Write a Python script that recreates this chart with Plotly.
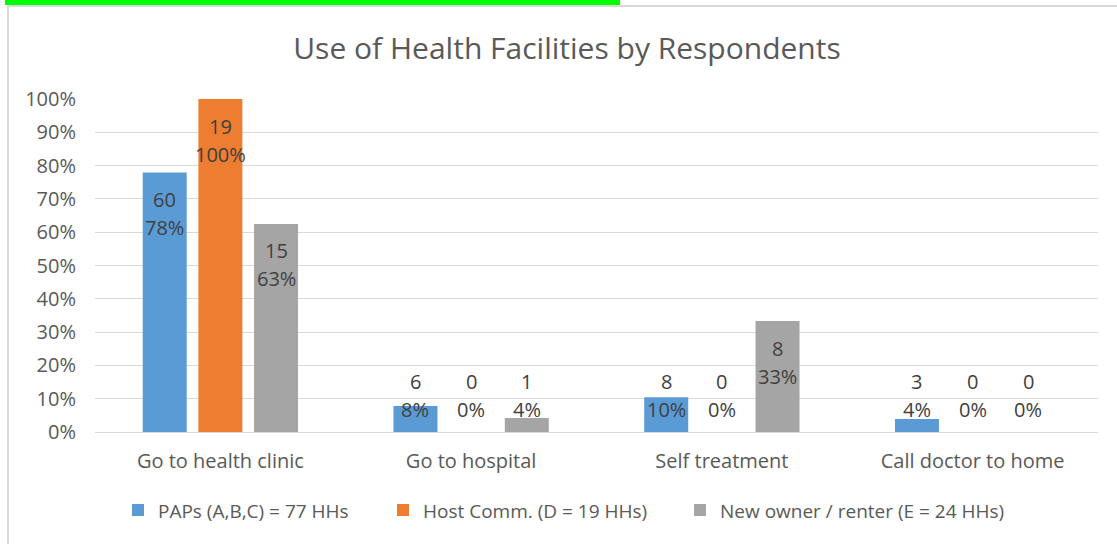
import plotly.graph_objects as go

categories = ["Go to health clinic", "Go to hospital", "Self treatment", "Call doctor to home"]
series_names = ["PAPs (A,B,C) = 77 HHs", "Host Comm. (D = 19 HHs)", "New owner / renter (E = 24 HHs)"]
paps_pct = [77.9, 7.8, 10.4, 3.9]
paps_cnt = [60, 6, 8, 3]
host_pct = [100, 0, 0, 0]
host_cnt = [19, 0, 0, 0]
new_pct = [62.5, 4.2, 33.3, 0]
new_cnt = [15, 1, 8, 0]
colors = ["#5B9BD5", "#ED7D31", "#A5A5A5"]
y_ticks = list(range(0, 101, 10))

series = [(series_names[0], paps_pct, paps_cnt, colors[0]),
          (series_names[1], host_pct, host_cnt, colors[1]),
          (series_names[2], new_pct, new_cnt, colors[2])]

FONT = "Open Sans"
legend_ids = ["legend", "legend2", "legend3"]
legend_px = [118, 383, 680]

fig = go.Figure()
for i, (name, pct, cnt, col) in enumerate(series):
    fig.add_trace(go.Bar(x=categories, y=pct, name=name, marker_color=col,
                         marker_line_width=0, offsetgroup=name, hoverinfo="skip",
                         legend=legend_ids[i], showlegend=True))

# data labels: count and rounded percent, placed at inside end (clamped for small bars)
n = len(series)
slot = (1 - 0.334) / n
annotations = []
for si, (name, pct, cnt, col) in enumerate(series):
    off = (si - (n - 1) / 2) * slot
    for ci, cat in enumerate(categories):
        yv = max(pct[ci], 23.4)
        for text, shift in ((str(cnt[ci]), -27), (f"{int(pct[ci] + 0.5)}%", -55)):
            annotations.append(dict(x=ci + off, y=yv, xref="x", yref="y", text=text,
                                    showarrow=False, yanchor="middle", yshift=shift,
                                    font=dict(family=FONT, size=20, color="#404040")))

legend_style = dict(orientation="h", xanchor="left", y=-0.235, yanchor="middle",
                    font=dict(family=FONT, size=19, color="#595959"),
                    itemwidth=30, bgcolor="rgba(0,0,0,0)", borderwidth=0)

fig.update_layout(
    width=1117, height=544,
    margin=dict(l=95, r=19, t=99, b=112),
    paper_bgcolor="white", plot_bgcolor="white",
    showlegend=True,
    barmode="group", bargap=0.334, bargroupgap=0.21,
    title=dict(text="Use of Health Facilities by Respondents", x=567 / 1117, xanchor="center",
               y=1 - 48 / 544, yanchor="middle",
               font=dict(family=FONT, size=30, color="#595959")),
    font=dict(family=FONT, color="#595959"),
    xaxis=dict(type="category", showgrid=False, showline=False, ticks="",
               tickfont=dict(size=20, color="#595959"), range=[-0.5, 3.5],
               ticklabelstandoff=15),
    yaxis=dict(range=[0, 100], tickvals=y_ticks, ticktext=[f"{v}%" for v in y_ticks],
               showgrid=True, gridcolor="#D9D9D9", gridwidth=1, zeroline=True,
               zerolinecolor="#D9D9D9", zerolinewidth=1, showline=False, ticks="",
               tickfont=dict(size=20, color="#595959"), ticklabelstandoff=18),
    legend=dict(x=(legend_px[0] - 95) / 1003, **legend_style),
    legend2=dict(x=(legend_px[1] - 95) / 1003, **legend_style),
    legend3=dict(x=(legend_px[2] - 95) / 1003, **legend_style),
    annotations=annotations,
    shapes=[
        dict(type="rect", xref="paper", yref="paper", x0=(5 - 95) / 1003, x1=(620 - 95) / 1003,
             y0=(432 - 5) / 333, y1=(432 + 1) / 333, fillcolor="#00FF00", line_width=0, layer="above"),
        dict(type="line", xref="paper", yref="paper", x0=(7 - 95) / 1003, x1=(1118 - 95) / 1003,
             y0=(432 - 6) / 333, y1=(432 - 6) / 333, line=dict(color="#D9D9D9", width=2)),
        dict(type="line", xref="paper", yref="paper", x0=(8 - 95) / 1003, x1=(8 - 95) / 1003,
             y0=(432 - 6) / 333, y1=(432 - 544) / 333, line=dict(color="#D9D9D9", width=2)),
    ],
)

fig.write_html("out.html", config={"displayModeBar": False},
               post_script="document.body.style.margin='0';document.body.style.overflow='hidden';")
